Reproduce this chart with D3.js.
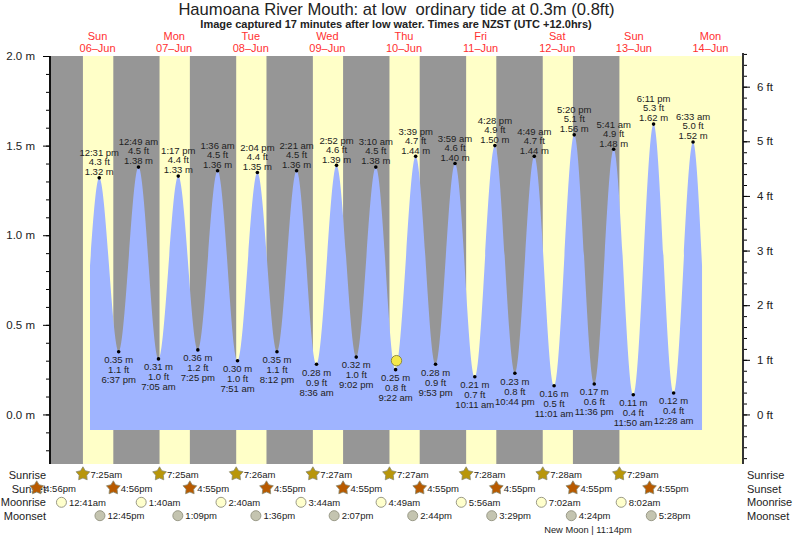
<!DOCTYPE html>
<html>
<head>
<meta charset="utf-8">
<script src="https://cdn.jsdelivr.net/npm/d3@7"></script>
<style>
body { margin: 0; background: #fff; }
text { font-family: "Liberation Sans", Arial, sans-serif; fill: #222; }
</style>
</head>
<body>
<div id="chart"></div>
<script>
// tide turning points, NZST
var tideTimes = ["06 12:31 PM","06 6:37 PM","07 12:49 AM","07 7:05 AM","07 1:17 PM","07 7:25 PM","08 1:36 AM","08 7:51 AM",
  "08 2:04 PM","08 8:12 PM","09 2:21 AM","09 8:36 AM","09 2:52 PM","09 9:02 PM","10 3:10 AM","10 9:22 AM","10 3:39 PM",
  "10 9:53 PM","11 3:59 AM","11 10:11 AM","11 4:28 PM","11 10:44 PM","12 4:49 AM","12 11:01 AM","12 5:20 PM","12 11:36 PM",
  "13 5:41 AM","13 11:50 AM","13 6:11 PM","14 12:28 AM","14 6:33 AM"];
var tideMetres = [1.32,0.35,1.38,0.31,1.33,0.36,1.36,0.30,1.35,0.35,1.36,0.28,1.39,0.32,1.38,0.25,1.44,0.28,1.40,0.21,1.50,0.23,1.44,0.16,1.56,0.17,1.48,0.11,1.62,0.12,1.52];
var tideFeet = ["4.3","1.1","4.5","1.0","4.4","1.2","4.5","1.0","4.4","1.1","4.5","0.9","4.6","1.0","4.5","0.8","4.7","0.9","4.6","0.7","4.9","0.8","4.7","0.5","5.1","0.6","4.9","0.4","5.3","0.4","5.0"];

// where the drawn curve is cut off on each side
var curveStart = ["06 9:38 AM", 0.83];
var curveEnd = ["14 9:22 AM", 0.83];
var curveFloor = -0.087;

var sunriseTimes = ["06 7:25 AM","07 7:25 AM","08 7:26 AM","09 7:27 AM","10 7:27 AM","11 7:28 AM","12 7:28 AM","13 7:29 AM"];
var sunsetTimes = ["05 4:56 PM","06 4:56 PM","07 4:55 PM","08 4:55 PM","09 4:55 PM","10 4:55 PM","11 4:55 PM","12 4:55 PM","13 4:55 PM"];
var moonriseTimes = ["06 12:41 AM","07 1:40 AM","08 2:40 AM","09 3:44 AM","10 4:49 AM","11 5:56 AM","12 7:02 AM","13 8:02 AM"];
var moonsetTimes = ["06 12:45 PM","07 1:09 PM","08 1:36 PM","09 2:07 PM","10 2:44 PM","11 3:29 PM","12 4:24 PM","13 5:28 PM"];

var dayNames = ["Sun","Mon","Tue","Wed","Thu","Fri","Sat","Sun","Mon"];
var dayDates = ["06","07","08","09","10","11","12","13","14"];

var nowTime = "10 9:39 AM";
var nowLevel = 0.30;

var metreTicks = [0, 0.5, 1.0, 1.5, 2.0];
var feetTicks = [0, 1, 2, 3, 4, 5, 6];

var parse = d3.utcParse("%Y-%m-%d %I:%M %p");
function when(s) { return parse("2021-06-" + s); }
function clock(s) {
  return d3.utcFormat("%-I:%M")(when(s)) + (s.slice(-2) == "AM" ? "am" : "pm");
}

var width = 793, height = 538;
var svg = d3.select("#chart").append("svg")
  .attr("width", width)
  .attr("height", height)
  .style("display", "block");

var left = 50, right = 743, top_ = 56, bottom = 464;

var x = d3.scaleUtc()
  .domain([when("05 9:06 PM"), when("14 10:12 PM")])
  .range([left, right]);
var y = d3.scaleLinear()
  .domain([-0.2765, 2.0])
  .range([bottom, top_]);
var yFeet = d3.scaleLinear()
  .domain(y.domain().map(function(d) { return d / 0.3048; }))
  .range([bottom, top_]);

// day and night bands
svg.append("rect")
  .attr("x", left).attr("y", top_)
  .attr("width", right - left).attr("height", bottom - top_)
  .attr("fill", "#ffffc8");

var nights = sunriseTimes.map(function(d, i) { return [sunsetTimes[i], d]; });
svg.selectAll(".night")
  .data(nights)
  .enter().append("rect")
  .attr("class", "night")
  .attr("x", function(d) { return Math.max(left, x(when(d[0]))); })
  .attr("y", top_)
  .attr("width", function(d) { return x(when(d[1])) - Math.max(left, x(when(d[0]))); })
  .attr("height", bottom - top_)
  .attr("fill", "#969696");

// tide curve
var curvePoints = [curveStart].concat(tideTimes.map(function(d, i) { return [d, tideMetres[i]]; }), [curveEnd]);
var area = d3.area()
  .x(function(d) { return x(when(d[0])); })
  .y0(y(curveFloor))
  .y1(function(d) { return y(d[1]); })
  .curve(d3.curveMonotoneX);
svg.append("path")
  .datum(curvePoints)
  .attr("d", area)
  .attr("fill", "#9fb4ff");

// axes
var minorMetres = d3.range(-2, 21).map(function(d) { return d / 10; });
var minorFeet = d3.range(-4, 34).map(function(d) { return d / 5; });

svg.append("g")
  .attr("transform", "translate(" + left + ",0)")
  .call(d3.axisLeft(y).tickValues(minorMetres).tickSize(4).tickFormat(""))
  .call(function(g) { g.select(".domain").remove(); });
svg.append("g")
  .attr("transform", "translate(" + left + ",0)")
  .call(d3.axisLeft(y).tickValues(metreTicks).tickSize(7).tickPadding(8)
    .tickFormat(function(d) { return d.toFixed(1) + " m"; }))
  .call(function(g) {
    g.select(".domain").attr("d", "M0," + top_ + "V" + bottom).attr("stroke-width", 2).attr("stroke", "#111");
    g.selectAll("text").style("font-size", "11.5px");
  });

svg.append("g")
  .attr("transform", "translate(" + right + ",0)")
  .call(d3.axisRight(yFeet).tickValues(minorFeet).tickSize(4).tickFormat(""))
  .call(function(g) { g.select(".domain").remove(); });
svg.append("g")
  .attr("transform", "translate(" + right + ",0)")
  .call(d3.axisRight(yFeet).tickValues(feetTicks).tickSize(7).tickPadding(7)
    .tickFormat(function(d) { return d + " ft"; }))
  .call(function(g) {
    g.select(".domain").attr("d", "M0,53V" + bottom).attr("stroke-width", 2).attr("stroke", "#333");
    g.selectAll("text").style("font-size", "11.5px");
  });

// tide labels, highs have the time on top and lows have it underneath
var tides = svg.selectAll(".tide")
  .data(tideTimes)
  .enter().append("g")
  .attr("class", "tide")
  .attr("transform", function(d, i) { return "translate(" + x(when(d)) + "," + y(tideMetres[i]) + ")"; });
tides.append("circle")
  .attr("r", 1.8)
  .attr("fill", "#000");

function tideLine(offsetHigh, offsetLow, label) {
  tides.append("text")
    .attr("text-anchor", "middle")
    .attr("y", function(d, i) { return i % 2 == 0 ? offsetHigh : offsetLow; })
    .attr("dy", "0.35em")
    .style("font-size", "9.5px")
    .text(label);
}
tideLine(-6, 8, function(d, i) { return tideMetres[i].toFixed(2) + " m"; });
tideLine(-16, 18, function(d, i) { return tideFeet[i] + " ft"; });
tideLine(-25, 28, function(d) {
  return d3.utcFormat("%-I:%M")(when(d)) + " " + d.slice(-2).toLowerCase();
});

// where the tide was when the image was taken
svg.append("circle")
  .attr("cx", x(when(nowTime)))
  .attr("cy", y(nowLevel))
  .attr("r", 5.2)
  .attr("fill", "#f5e84a")
  .attr("stroke", "#8f8a40")
  .attr("stroke-width", 1);

// title
svg.append("text")
  .attr("x", 396.5).attr("y", 14.5)
  .attr("text-anchor", "middle")
  .style("font-size", "16.6px")
  .attr("xml:space", "preserve")
  .text("Haumoana River Mouth: at low  ordinary tide at 0.3m (0.8ft)");
svg.append("text")
  .attr("x", 396).attr("y", 28)
  .attr("text-anchor", "middle")
  .style("font-size", "11px")
  .style("font-weight", "bold")
  .text("Image captured 17 minutes after low water. Times are NZST (UTC +12.0hrs)");

// day headers, centred on noon
var days = svg.selectAll(".day")
  .data(dayDates)
  .enter().append("g")
  .attr("class", "day")
  .attr("transform", function(d) { return "translate(" + x(when(d + " 12:00 PM")) + ",0)"; })
  .attr("text-anchor", "middle");
days.append("text")
  .attr("y", 40)
  .style("font-size", "11px")
  .style("fill", "#ff3030")
  .text(function(d, i) { return dayNames[i]; });
days.append("text")
  .attr("y", 52)
  .style("font-size", "11px")
  .style("fill", "#ff3030")
  .text(function(d) { return d + "\u2013Jun"; });

// sun and moon rows
var rowY = { Sunrise: 474.5, Sunset: 488.5, Moonrise: 502.3, Moonset: 515.7 };
Object.keys(rowY).forEach(function(k) {
  svg.append("text")
    .attr("x", 46).attr("y", rowY[k]).attr("dy", "0.38em")
    .attr("text-anchor", "end")
    .style("font-size", "11px")
    .text(k);
  svg.append("text")
    .attr("x", 747).attr("y", rowY[k]).attr("dy", "0.38em")
    .style("font-size", "11px")
    .text(k);
});

var starPoints = d3.range(10).map(function(i) {
  return [i * Math.PI / 5, i % 2 == 0 ? 7.2 : 4];
});
var star = d3.lineRadial().curve(d3.curveLinearClosed)(starPoints);

function starRow(times, rowName, colour) {
  var g = svg.selectAll(".star" + rowName)
    .data(times)
    .enter().append("g")
    .attr("class", "star" + rowName)
    .attr("transform", function(d) { return "translate(" + x(when(d)) + "," + (rowY[rowName] - 0.5) + ")"; });
  g.append("path")
    .attr("d", star)
    .attr("fill", colour)
    .attr("stroke", "#8a8a70")
    .attr("stroke-width", 0.8);
  g.append("text")
    .attr("x", 7.5).attr("y", 0.5).attr("dy", "0.36em")
    .style("font-size", "9.5px")
    .text(clock);
}
function moonRow(times, rowName, colour) {
  var g = svg.selectAll(".moon" + rowName)
    .data(times)
    .enter().append("g")
    .attr("class", "moon" + rowName)
    .attr("transform", function(d) { return "translate(" + x(when(d)) + "," + rowY[rowName] + ")"; });
  g.append("circle")
    .attr("r", 5)
    .attr("fill", colour)
    .attr("stroke", "#9a9a88")
    .attr("stroke-width", 1);
  g.append("text")
    .attr("x", 7.5).attr("dy", "0.36em")
    .style("font-size", "9.5px")
    .text(clock);
}
starRow(sunriseTimes, "Sunrise", "#b8960a");
starRow(sunsetTimes, "Sunset", "#b85a00");
moonRow(moonriseTimes, "Moonrise", "#ffffcc");
moonRow(moonsetTimes, "Moonset", "#c4c4b0");

svg.append("text")
  .attr("x", 588).attr("y", 533)
  .attr("text-anchor", "middle")
  .style("font-size", "9.3px")
  .text("New Moon | 11:14pm");
</script>
</body>
</html>
